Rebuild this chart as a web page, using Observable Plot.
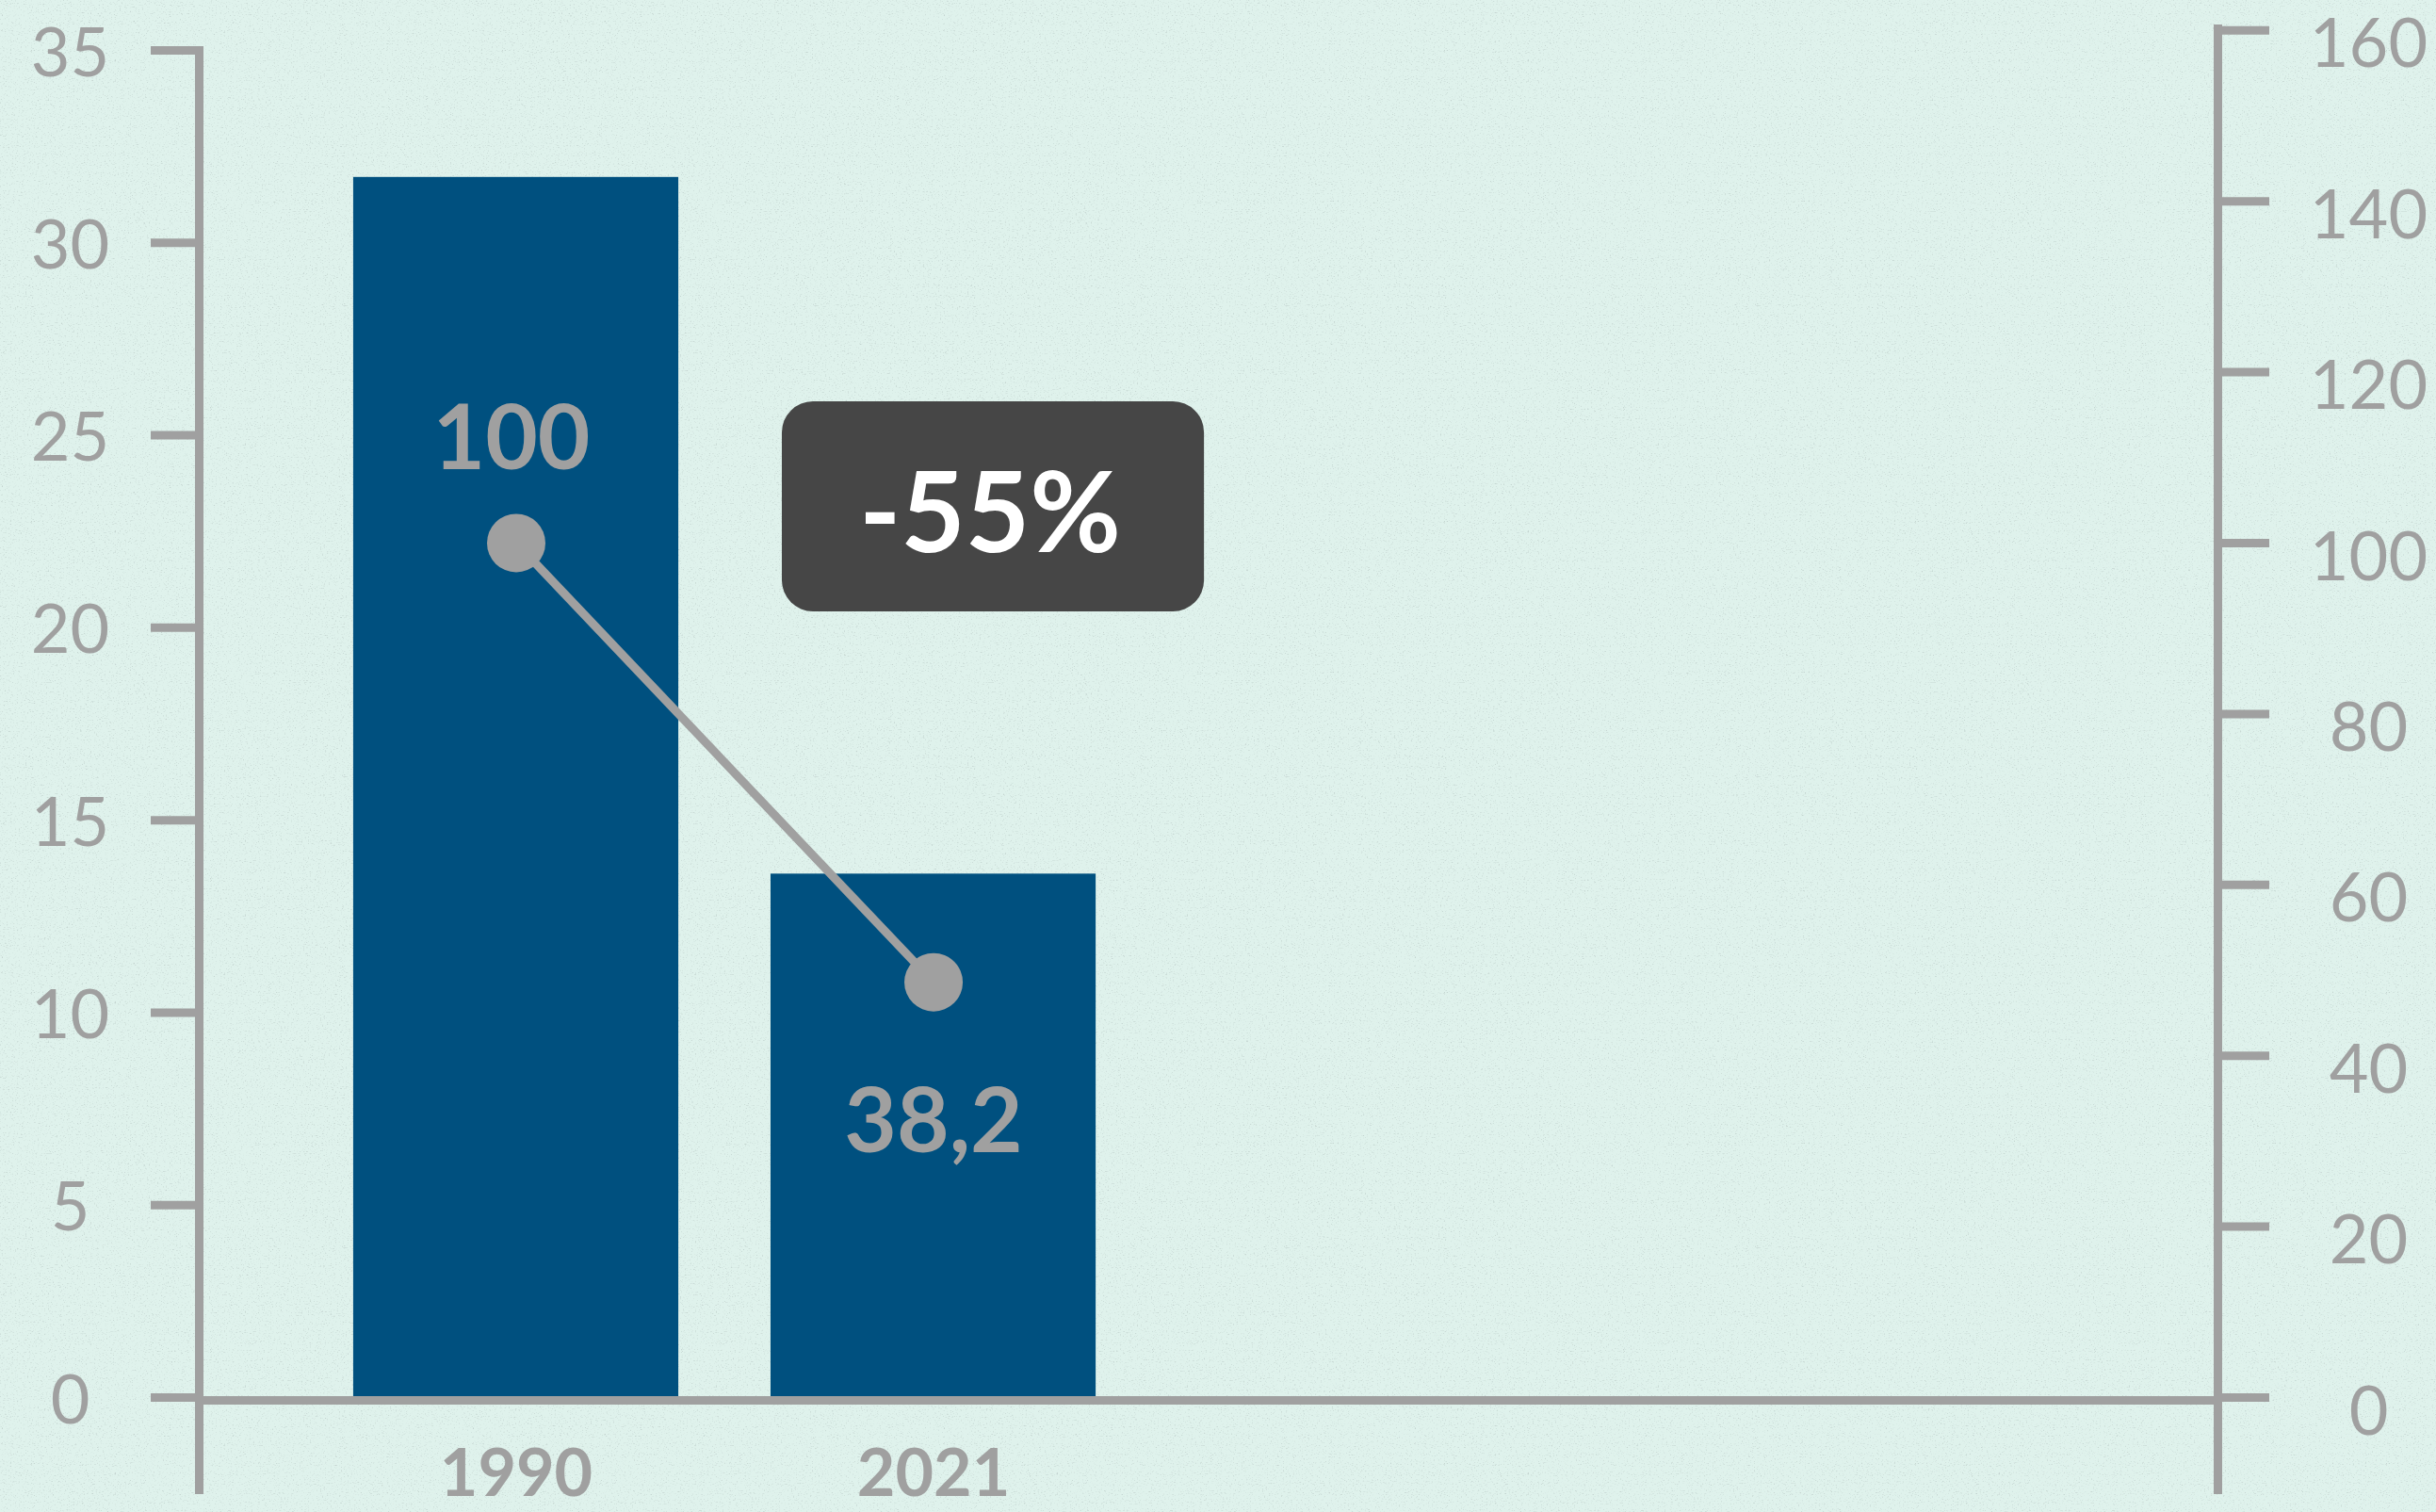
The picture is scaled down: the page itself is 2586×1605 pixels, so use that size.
<!DOCTYPE html>
<html><head><meta charset="utf-8">
<script src="https://cdn.jsdelivr.net/npm/d3@7"></script>
<script src="https://cdn.jsdelivr.net/npm/@observablehq/plot@0.6"></script>
<style>
html,body{margin:0;padding:0;overflow:hidden;background-color:#dff2ec;
background-image:url("data:image/svg+xml,%3Csvg xmlns='http://www.w3.org/2000/svg' width='500' height='500'%3E%3Cfilter id='n'%3E%3CfeTurbulence type='fractalNoise' baseFrequency='0.55 0.9' numOctaves='3' seed='4' stitchTiles='stitch'/%3E%3CfeColorMatrix values='0 0 0 0 0.55 0 0 0 0 0.66 0 0 0 0 0.63 3.2 0 0 0 -1.85'/%3E%3C/filter%3E%3Crect width='100%25' height='100%25' filter='url(%23n)'/%3E%3C/svg%3E");}
#chart svg{display:block}
</style></head><body><div id="chart"></div>
<script>
// Data
const years = ["1990", "2021"];
const emissions = [31.7, 13.6];          // bars, left axis
const indexValues = [100, 48.6];         // dots + line, right axis
const indexLabels = ["100", "38,2"];     // value labels as printed
const changeLabel = "-55%";
const leftTicks = [0, 5, 10, 15, 20, 25, 30, 35];
const rightTicks = [0, 20, 40, 60, 80, 100, 120, 140, 160];

const k = 0.222; // right-axis unit expressed in left-axis units
const gray = "#a0a0a0";
const rows = years.map((year, i) => ({year, emissions: emissions[i], index: indexValues[i], indexLabel: indexLabels[i]}));
const yIndex = d => d.index * k;
const yRef = () => indexValues[0] * k;

const chart = Plot.plot({
  width: 2586, height: 1605,
  marginLeft: 211, marginRight: 232, marginTop: 53, marginBottom: 122,
  style: {background: "transparent", fontFamily: "Lato, 'Open Sans', sans-serif", overflow: "visible"},
  x: {domain: years, paddingInner: 0.221, paddingOuter: 1.529, align: 0.121, round: false, label: null},
  y: {domain: [0, 35], label: null},
  marks: [
    Plot.barY(rows, {x: "year", y: "emissions", fill: "#00507f"}),
    Plot.ruleY([0], {stroke: gray, strokeWidth: 9, dy: 3}),
    Plot.frame({anchor: "left", stroke: gray, strokeWidth: 9, insetBottom: -98}),
    Plot.frame({anchor: "right", stroke: gray, strokeWidth: 9, insetBottom: -98, insetTop: -23}),
    // left axis
    Plot.axisY({anchor: "left", ticks: leftTicks, tickSize: 51, stroke: gray, strokeWidth: 9, fill: "none", label: null}),
    Plot.axisY({anchor: "left", ticks: leftTicks, tickSize: 0, tickPadding: 137, fill: gray, textAnchor: "middle", fontSize: 72, dy: 4, tickFormat: d => String(d), label: null}),
    // right axis
    Plot.axisY({anchor: "right", ticks: rightTicks.map(v => v * k), tickSize: 54, stroke: gray, strokeWidth: 9, fill: "none", label: null}),
    Plot.axisY({anchor: "right", ticks: rightTicks.map(v => v * k), tickSize: 0, tickPadding: 160, fill: gray, textAnchor: "middle", fontSize: 72, dy: 16, tickFormat: d => String(Math.round(d / k)), label: null}),
    // x axis labels
    Plot.axisX({tickSize: 0, tickPadding: 55, fill: gray, fontSize: 70, fontWeight: "bold", label: null}),
    // index line + dots
    Plot.line(rows, {x: "year", y: yIndex, stroke: gray, strokeWidth: 9}),
    Plot.dot(rows, {x: "year", y: yIndex, r: 31, fill: gray}),
    Plot.text(rows.slice(0, 1), {x: "year", y: yIndex, text: "indexLabel", dx: -5, dy: -78, lineAnchor: "bottom", fill: gray, fontSize: 96, fontWeight: "bold"}),
    Plot.text(rows.slice(1), {x: "year", y: yIndex, text: "indexLabel", dy: 180, lineAnchor: "bottom", fill: gray, fontSize: 96, fontWeight: "bold"}),
    // change annotation box
    Plot.barY(rows.slice(1), {x: "year", y1: yRef, y2: yRef, insetLeft: 12, insetRight: -115, insetTop: -150, insetBottom: -73, rx: 33, fill: "#464646"}),
    Plot.text(rows.slice(1), {x: "year", y: yRef, text: () => changeLabel, dx: 60, dy: 10, lineAnchor: "bottom", fill: "white", fontSize: 118, fontWeight: "bold"})
  ]
});
document.getElementById("chart").append(chart);
</script></body></html>
